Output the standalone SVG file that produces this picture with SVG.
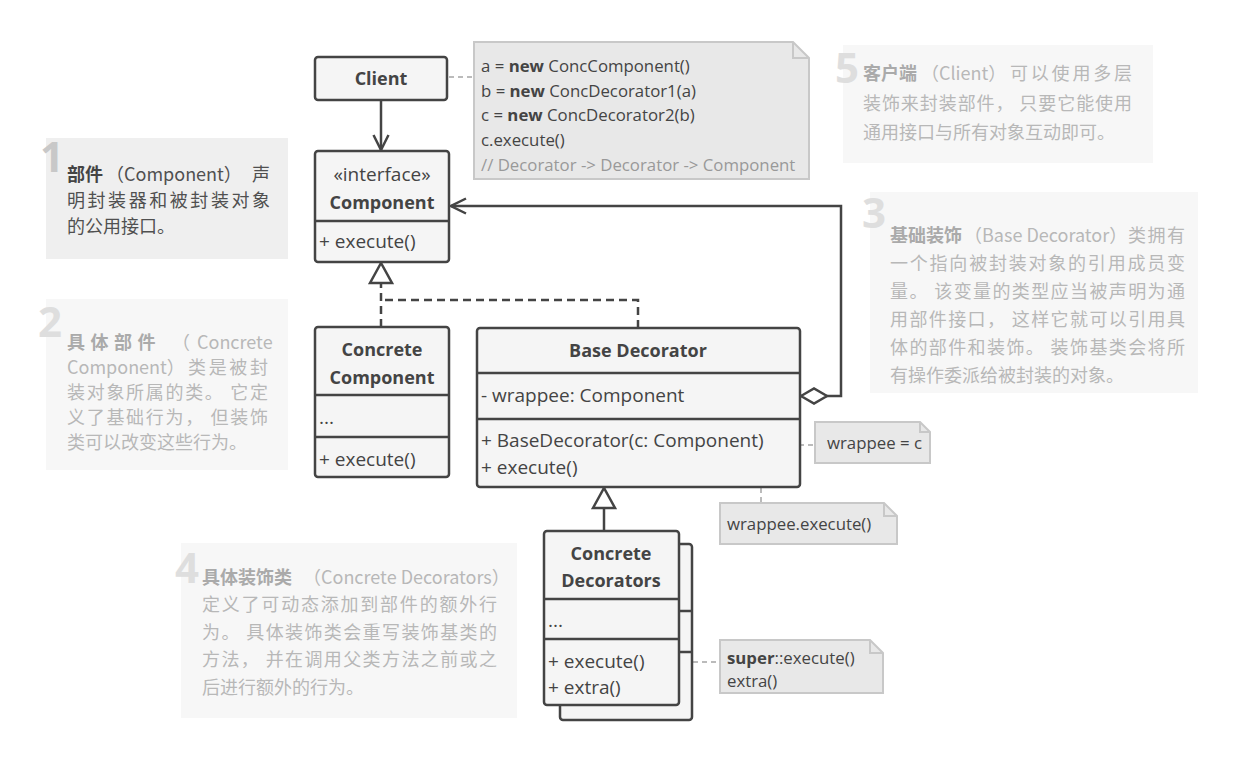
<svg xmlns="http://www.w3.org/2000/svg" width="1239" height="757" viewBox="0 0 1239 757">
<defs>
<style>
.box{fill:#f5f5f5;stroke:#444;stroke-width:2.5}
.sep{stroke:#444;stroke-width:2.5}
.t{font-family:"Open Sans","Noto Sans CJK SC",sans-serif;font-size:19px;fill:#444}
.b{font-weight:700;font-size:18px}
.mid{text-anchor:middle}
.note{fill:#e8e8e8;stroke:#c8c8c8;stroke-width:2}
.fold{fill:none;stroke:#c8c8c8;stroke-width:2}
.nt{font-family:"Open Sans",sans-serif;font-size:16.8px;fill:#444}
.nb{font-weight:700}
.cm{fill:#999}
.link{fill:none;stroke:#444;stroke-width:2.5}
.dash{stroke-dasharray:8 5}
.nl{fill:none;stroke:#bbb;stroke-width:2;stroke-dasharray:5 4}
.dot{fill:#fff;stroke:#bbb;stroke-width:2}
.pane1{fill:#efefef}
.pane{fill:#f7f7f7}
.d{font-family:"Noto Sans CJK SC",sans-serif;font-size:18px;fill:#b8b8b8}
.d1{fill:#505050}
.db{font-weight:700}
.num{font-family:"Open Sans",sans-serif;font-size:42px;font-weight:700;fill:#dedede;text-anchor:end}
</style>
<marker id="arrow" viewBox="0 0 18 18" refX="16" refY="9" markerWidth="18" markerHeight="18" markerUnits="userSpaceOnUse" orient="auto">
<path d="M1,1.5 L16,9 L1,16.5" fill="none" stroke="#444" stroke-width="2.5"/>
</marker>
<marker id="tri" viewBox="0 0 24 26" refX="22" refY="13" markerWidth="24" markerHeight="26" markerUnits="userSpaceOnUse" orient="auto">
<path d="M2,2 L22,13 L2,24 Z" fill="#fff" stroke="#444" stroke-width="2.5" stroke-linejoin="miter"/>
</marker>
<marker id="dia" viewBox="0 0 30 20" refX="2" refY="10" markerWidth="30" markerHeight="20" markerUnits="userSpaceOnUse" orient="auto">
<path d="M2,10 L15,2.5 L28,10 L15,17.5 Z" fill="#fff" stroke="#444" stroke-width="2.5"/>
</marker>
</defs>

<g id="pane1">
<rect class="pane1" x="46" y="138" width="242" height="121"/>
<text class="num" x="64" y="172" style="fill:#c8c8c8">1</text>
<text class="d d1" y="181"><tspan x="67" class="db" style="fill:#444">部件</tspan><tspan x="106">（Component）</tspan><tspan x="252">声</tspan></text>
<text class="d d1" x="67" y="207" textLength="203" lengthAdjust="spacing">明封装器和被封装对象</text>
<text class="d d1" x="67" y="233">的公用接口。</text>
</g>

<g id="pane2">
<rect class="pane" x="46" y="299" width="242" height="171"/>
<text class="num" x="62" y="337">2</text>
<text class="d" y="349"><tspan x="67" class="db" style="fill:#aaa;letter-spacing:5.5px">具体部件</tspan><tspan x="172">（</tspan><tspan x="197">Concrete</tspan></text>
<text class="d" y="374"><tspan x="67">Component）</tspan><tspan x="188" textLength="80" lengthAdjust="spacing">类是被封</tspan></text>
<text class="d" x="67" y="399" textLength="201" lengthAdjust="spacing">装对象所属的类。 它定</text>
<text class="d" x="67" y="424" textLength="201" lengthAdjust="spacing">义了基础行为， 但装饰</text>
<text class="d" x="67" y="449">类可以改变这些行为。</text>
</g>

<g id="pane3">
<rect class="pane" x="870" y="192" width="328" height="201"/>
<text class="num" x="886" y="228">3</text>
<text class="d" y="242"><tspan x="890" class="db" style="fill:#aaa">基础装饰</tspan><tspan x="964">（Base Decorator）</tspan><tspan x="1128" textLength="57" lengthAdjust="spacing">类拥有</tspan></text>
<text class="d" x="890" y="270" textLength="295" lengthAdjust="spacing">一个指向被封装对象的引用成员变</text>
<text class="d" x="890" y="298" textLength="295" lengthAdjust="spacing">量。 该变量的类型应当被声明为通</text>
<text class="d" x="890" y="326" textLength="295" lengthAdjust="spacing">用部件接口， 这样它就可以引用具</text>
<text class="d" x="890" y="354" textLength="295" lengthAdjust="spacing">体的部件和装饰。 装饰基类会将所</text>
<text class="d" x="890" y="382">有操作委派给被封装的对象。</text>
</g>

<g id="pane4">
<rect class="pane" x="181" y="543" width="336" height="175"/>
<text class="num" x="199" y="583">4</text>
<text class="d" y="584"><tspan x="202" class="db" style="fill:#aaa">具体装饰类</tspan><tspan x="303">（Concrete Decorators）</tspan></text>
<text class="d" x="202" y="611" textLength="295" lengthAdjust="spacing">定义了可动态添加到部件的额外行</text>
<text class="d" x="202" y="639" textLength="295" lengthAdjust="spacing">为。 具体装饰类会重写装饰基类的</text>
<text class="d" x="202" y="666" textLength="295" lengthAdjust="spacing">方法， 并在调用父类方法之前或之</text>
<text class="d" x="202" y="694">后进行额外的行为。</text>
</g>

<g id="pane5">
<rect class="pane" x="843" y="45" width="310" height="118"/>
<text class="num" x="859" y="83">5</text>
<text class="d" y="80"><tspan x="863" class="db" style="fill:#aaa">客户端</tspan><tspan x="921">（Client）</tspan><tspan x="1010" textLength="122" lengthAdjust="spacing">可以使用多层</tspan></text>
<text class="d" x="863" y="110" textLength="269" lengthAdjust="spacing">装饰来封装部件， 只要它能使用</text>
<text class="d" x="863" y="139">通用接口与所有对象互动即可。</text>
</g>

<g id="connectors">
<path class="link" d="M381,100 V150" marker-end="url(#arrow)"/>
<path class="link dash" d="M638,328 V300 H381"/>
<path class="link dash" d="M381,327 V263" marker-end="url(#tri)"/>
<path class="link" d="M801,396 H841 V206 H451" marker-start="url(#dia)" marker-end="url(#arrow)"/>
<path class="link" d="M604,531 V488" marker-end="url(#tri)"/>
<path class="nl" d="M449,77 H474"/>
<path class="nl" d="M790,445 H815"/>
<path class="nl" d="M600,469 H761 V503"/>
<path class="nl" d="M666,662 H720"/>
<circle class="dot" cx="786" cy="445" r="4"/>
<circle class="dot" cx="596" cy="469" r="4"/>
<circle class="dot" cx="662" cy="662" r="4"/>
</g>

<g id="client">
<rect class="box" x="315" y="57" width="132" height="43" rx="3"/>
<text class="t b mid" x="381" y="85">Client</text>
</g>

<g id="note-client">
<path class="note" d="M474,42 H793 L809,58 V179 H474 Z"/>
<path class="fold" d="M793,42 V58 H809"/>
<text class="nt" x="481" y="72">a = <tspan class="nb">new</tspan> ConcComponent()</text>
<text class="nt" x="481" y="97">b = <tspan class="nb">new</tspan> ConcDecorator1(a)</text>
<text class="nt" x="481" y="121">c = <tspan class="nb">new</tspan> ConcDecorator2(b)</text>
<text class="nt" x="481" y="146">c.execute()</text>
<text class="nt cm" x="481" y="171">// Decorator -&gt; Decorator -&gt; Component</text>
</g>

<g id="component">
<rect class="box" x="315" y="151" width="134" height="111" rx="3"/>
<line class="sep" x1="315" y1="221" x2="449" y2="221"/>
<text class="t mid" x="382" y="181">«interface»</text>
<text class="t b mid" x="382" y="209">Component</text>
<text class="t" x="319" y="248">+ execute()</text>
</g>

<g id="concrete-component">
<rect class="box" x="315" y="327" width="134" height="150" rx="3"/>
<line class="sep" x1="315" y1="395" x2="449" y2="395"/>
<line class="sep" x1="315" y1="437" x2="449" y2="437"/>
<text class="t b mid" x="382" y="356">Concrete</text>
<text class="t b mid" x="382" y="384">Component</text>
<text class="t" x="319" y="424">...</text>
<text class="t" x="319" y="466">+ execute()</text>
</g>

<g id="base-decorator">
<rect class="box" x="477" y="328" width="323" height="159" rx="3"/>
<line class="sep" x1="477" y1="373" x2="800" y2="373"/>
<line class="sep" x1="477" y1="419" x2="800" y2="419"/>
<text class="t b mid" x="638" y="357">Base Decorator</text>
<text class="t" x="481" y="402">- wrappee: Component</text>
<text class="t" x="481" y="447">+ BaseDecorator(c: Component)</text>
<text class="t" x="481" y="474">+ execute()</text>
</g>

<g id="note-wrappee">
<path class="note" d="M815,422 H920 L930,432 V463 H815 Z"/>
<path class="fold" d="M920,422 V432 H930"/>
<text class="nt" x="827" y="449">wrappee = c</text>
</g>

<g id="note-execute">
<path class="note" d="M720,503 H884 L897,516 V544 H720 Z"/>
<path class="fold" d="M884,503 V516 H897"/>
<text class="nt" x="727" y="530">wrappee.execute()</text>
</g>

<g id="concrete-decorators">
<rect class="box" x="560" y="544" width="132" height="176" rx="3"/>
<line class="sep" x1="560" y1="611" x2="692" y2="611"/>
<line class="sep" x1="560" y1="652" x2="692" y2="652"/>
<rect class="box" x="544" y="531" width="135" height="174" rx="3"/>
<line class="sep" x1="544" y1="599" x2="679" y2="599"/>
<line class="sep" x1="544" y1="639" x2="679" y2="639"/>
<text class="t b mid" x="611" y="560">Concrete</text>
<text class="t b mid" x="611" y="587">Decorators</text>
<text class="t" x="548" y="627">...</text>
<text class="t" x="548" y="668">+ execute()</text>
<text class="t" x="548" y="694">+ extra()</text>
</g>

<g id="note-super">
<path class="note" d="M720,640 H870 L883,653 V693 H720 Z"/>
<path class="fold" d="M870,640 V653 H883"/>
<text class="nt" x="727" y="664"><tspan class="nb">super</tspan>::execute()</text>
<text class="nt" x="727" y="687">extra()</text>
</g>
</svg>
